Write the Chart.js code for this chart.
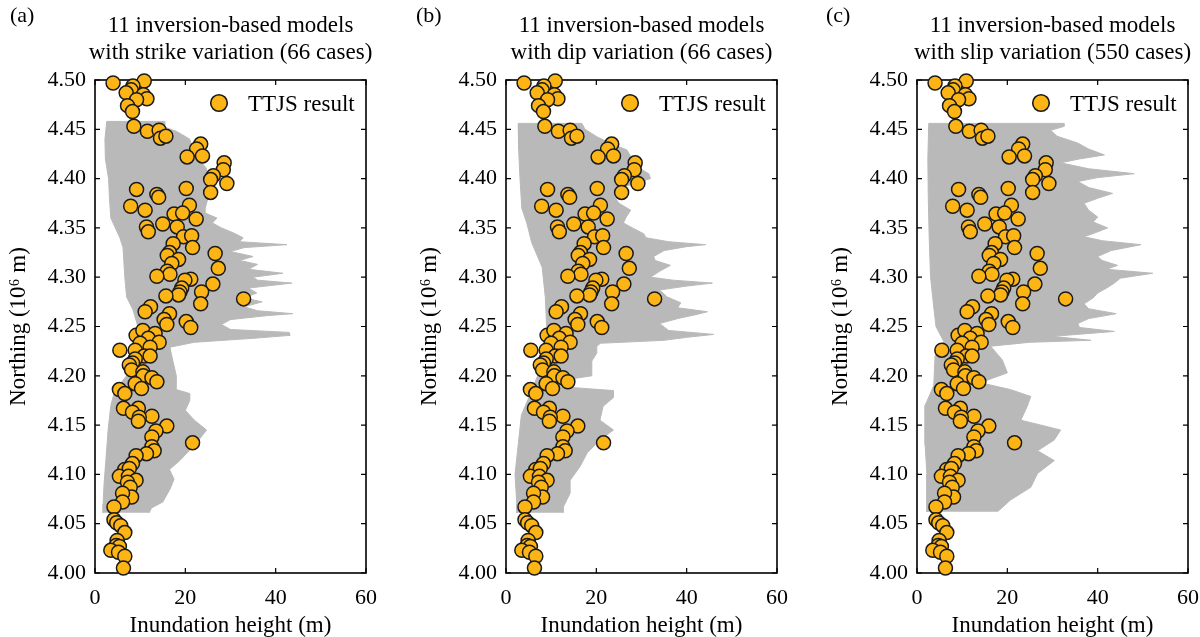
<!DOCTYPE html>
<html>
<head>
<meta charset="utf-8">
<script src="https://cdn.jsdelivr.net/npm/chart.js@4/dist/chart.umd.min.js"></script>
<style>
  html, body { margin: 0; padding: 0; background: #fff; }
  body { width: 1200px; height: 637px; position: relative; overflow: hidden; }
  .panel { position: absolute; top: 0; width: 380px; height: 637px; }
</style>
</head>
<body>
<div class="panel" style="left:0px"><canvas id="ca" width="380" height="637"></canvas></div>
<div class="panel" style="left:411px"><canvas id="cb" width="380" height="637"></canvas></div>
<div class="panel" style="left:822px"><canvas id="cc" width="380" height="637"></canvas></div>
<script>
// ---------------- DATA ----------------
const panelLabels = ['(a)', '(b)', '(c)'];
const panelTitles = [
  ['11 inversion-based models', 'with strike variation (66 cases)'],
  ['11 inversion-based models', 'with dip variation (66 cases)'],
  ['11 inversion-based models', 'with slip variation (550 cases)']
];
const legendLabel = 'TTJS result';
const xTickValues = [0, 20, 40, 60];
const yTickValues = [4.00, 4.05, 4.10, 4.15, 4.20, 4.25, 4.30, 4.35, 4.40, 4.45, 4.50];

// TTJS survey points: inundation height (m) and northing (10^6 m)
const ttjsH = [4.0,10.9,8.4,8.0,6.9,10.7,11.5,9.2,7.2,8.3,
  8.6,11.6,14.2,14.5,15.7,23.4,22.5,23.8,20.4,
  28.6,28.4,26.2,25.6,29.2,25.6,9.2,20.2,13.7,14.1,
  7.9,11.1,20.9,17.5,19.4,22.4,15.0,18.2,11.4,11.8,
  19.6,21.4,17.3,21.6,16.5,16.0,26.6,18.5,17.0,27.3,16.0,16.6,13.7,21.2,19.9,26.1,19.2,18.8,23.6,18.5,15.7,32.9,23.4,12.3,11.1,16.5,15.3,15.9,20.2,21.2,
  9.1,10.6,13.3,11.8,10.0,14.2,12.2,5.5,8.9,10.9,12.2,8.9,8.3,7.6,8.1,10.6,10.7,12.6,13.7,8.9,10.3,5.4,6.6,
  6.3,9.6,8.3,12.6,9.8,9.6,15.9,13.5,12.6,21.6,12.6,13.1,11.4,9.1,8.3,6.6,7.6,5.4,7.4,9.1,7.2,7.8,8.1,6.1,6.1,4.2,4.2,4.8,5.7,6.6,4.9,4.7,5.4,3.5,5.2,6.6,6.3];
const ttjsN = [4.497,4.499,4.494,4.490,4.487,4.485,4.481,4.480,4.474,4.468,
  4.453,4.448,4.449,4.441,4.443,4.435,4.430,4.423,4.422,
  4.416,4.409,4.403,4.399,4.395,4.386,4.389,4.390,4.384,4.381,
  4.372,4.368,4.373,4.364,4.365,4.359,4.354,4.351,4.351,4.346,
  4.341,4.342,4.334,4.330,4.325,4.322,4.324,4.318,4.314,4.309,4.306,4.303,4.301,4.298,4.297,4.293,4.289,4.285,4.285,4.282,4.281,4.278,4.273,4.270,4.265,4.263,4.257,4.252,4.255,4.249,
  4.241,4.246,4.243,4.238,4.233,4.234,4.229,4.226,4.226,4.220,4.220,4.217,4.213,4.211,4.206,4.204,4.200,4.198,4.194,4.192,4.187,4.186,4.182,
  4.167,4.167,4.163,4.159,4.158,4.154,4.149,4.144,4.138,4.132,4.128,4.124,4.121,4.119,4.111,4.105,4.106,4.098,4.098,4.094,4.092,4.087,4.077,4.081,4.072,4.067,4.054,4.051,4.048,4.041,4.033,4.028,4.027,4.023,4.021,4.017,4.005];

// Envelope of simulated cases, panel (a): right edge (bottom->top), left edge (top->bottom)
const aRightN = [4.061,4.066,4.072,4.085,4.095,4.105,4.115,4.125,4.135,4.145,4.155,4.165,4.175,4.182,4.186,4.190,4.200,4.210,4.220,4.229,4.234,4.238,4.241,4.244,4.247,4.252,4.257,4.261,4.263,4.266,4.270,4.275,4.279,4.284,4.289,4.294,4.297,4.300,4.304,4.308,4.313,4.317,4.321,4.326,4.330,4.333,4.336,4.340,4.345,4.350,4.355,4.360,4.365,4.370,4.380,4.390,4.400,4.410,4.420,4.430,4.440,4.448,4.452,4.458];
const aRightH = [12,12.5,15,16.6,17.5,16.5,19,21,23,24.7,22,20,21,21,18,18,18,17.5,17,16.6,22,35,43.2,43,30,28,30,38,43.8,36,33,37,33,35.8,34,43.6,36,35,41.6,34,36,32,35,30,33,42.5,32,32.8,30.6,28,26,27,24.4,24.4,25,25,24.7,24.7,23,21.5,21,18,15.5,15.5];
const aLeftN = [4.458,4.440,4.420,4.400,4.380,4.360,4.340,4.330,4.300,4.280,4.267,4.250,4.235,4.220,4.200,4.185,4.170,4.145,4.120,4.090,4.070,4.061];
const aLeftH = [2.6,2.2,2.3,3.0,3.2,3.5,5.5,6.2,6.6,7.0,8.4,9.5,11.4,9,7,4.4,3.5,2.9,2.5,2.0,1.8,1.8];

// panel (b)
const bRightN = [4.061,4.067,4.081,4.094,4.108,4.122,4.135,4.145,4.155,4.169,4.178,4.185,4.189,4.196,4.200,4.215,4.223,4.230,4.233,4.236,4.239,4.242,4.246,4.253,4.258,4.262,4.265,4.269,4.274,4.280,4.287,4.291,4.294,4.297,4.300,4.306,4.312,4.317,4.321,4.327,4.331,4.333,4.336,4.340,4.344,4.350,4.355,4.360,4.368,4.375,4.382,4.392,4.400,4.405,4.412,4.419,4.429,4.436,4.4425,4.450,4.456];
const bRightH = [12.7,12.7,14.2,14.2,16.4,18,20.8,23.8,20.8,21.5,23.8,23.8,12,13.2,19,19,20.1,20.1,20.9,35,40,46,36,34,38,42,44.6,38,38.7,35.7,34,40,45.7,37,32,34,36.4,33,32.7,35,40,44.2,36,31,30.5,28,26,26.5,27.6,25,24,26.2,32,31.6,29,28,26.8,23,20.1,17.5,16.8];
const bLeftN = [4.456,4.430,4.400,4.370,4.355,4.335,4.310,4.280,4.250,4.235,4.220,4.200,4.185,4.160,4.130,4.100,4.070,4.061];
const bLeftH = [2.7,2.8,3.1,3.5,4.6,5.7,8.0,8.7,9.0,10,7.5,7,5.7,3.4,2.7,2.0,2.4,2.4];

// panel (c)
const cRightN = [4.062,4.074,4.087,4.101,4.114,4.124,4.135,4.145,4.155,4.169,4.179,4.186,4.193,4.203,4.216,4.230,4.234,4.236,4.240,4.245,4.249,4.253,4.258,4.263,4.268,4.273,4.279,4.284,4.289,4.294,4.299,4.304,4.308,4.312,4.317,4.321,4.327,4.333,4.337,4.341,4.346,4.350,4.356,4.361,4.368,4.375,4.380,4.385,4.391,4.397,4.401,4.405,4.410,4.416,4.420,4.424,4.430,4.436,4.443,4.449,4.453,4.456];
const cRightH = [17.8,20.7,25.2,26.7,30.4,26.7,30.4,31.8,23,24.4,25.2,20.7,14,20,18.9,16.3,25,38.5,30,43.7,36,35.6,38,44.1,38,37,39,40,42,43.7,45,52.2,42,44.4,41,40,43,49.6,41,37,40,42.2,39,40,38,37,40,43.3,38,35.6,40,48.1,38,31.8,36,41.5,38,35.6,31,29.6,32.6,32.6];
const cLeftN = [4.456,4.420,4.380,4.340,4.300,4.270,4.250,4.235,4.220,4.190,4.170,4.130,4.100,4.062];
const cLeftH = [2.6,2.4,2.5,2.7,3.0,3.7,4.2,5.9,4.0,3.7,1.8,1.8,2.2,2.2];

// ---------------- RENDER ----------------
const FONT = "'Liberation Serif', 'Times New Roman', serif";
const GRAY = '#b9b9b9';
const ORANGE = '#FDB515';
Chart.defaults.color = '#000';

function shape(rN, rH, lN, lH) {
  const right = rN.map((n, i) => ({ x: rH[i], y: n }));
  const left = lN.map((n, i) => ({ x: lH[i], y: n }));
  return right.concat(left);
}
const ttjsPoints = ttjsH.map((h, i) => ({ x: h, y: ttjsN[i] }));

const framePlugin = {
  id: 'frame',
  beforeDatasetsDraw(chart) {
    const { ctx, chartArea: a, scales } = chart;
    ctx.save();
    ctx.strokeStyle = '#000';
    ctx.lineWidth = 1.2;
    ctx.beginPath();
    const L = 5;
    scales.x.ticks.forEach(t => {
      const px = scales.x.getPixelForValue(t.value);
      ctx.moveTo(px, a.bottom); ctx.lineTo(px, a.bottom - L);
      ctx.moveTo(px, a.top); ctx.lineTo(px, a.top + L);
    });
    scales.y.ticks.forEach(t => {
      const py = scales.y.getPixelForValue(t.value);
      ctx.moveTo(a.left, py); ctx.lineTo(a.left + L, py);
      ctx.moveTo(a.right, py); ctx.lineTo(a.right - L, py);
    });
    ctx.stroke();
    ctx.lineWidth = 1.6;
    ctx.strokeRect(a.left, a.top, a.right - a.left, a.bottom - a.top);
    ctx.restore();
  }
};

const textPlugin = {
  id: 'texts',
  afterDraw(chart) {
    const o = chart.options.plugins.texts;
    const { ctx, chartArea: a } = chart;
    ctx.save();
    ctx.fillStyle = '#000';
    ctx.textBaseline = 'alphabetic';
    ctx.font = '22px ' + FONT;
    ctx.textAlign = 'left';
    ctx.fillText(o.label, o.labelX, 22);
    ctx.font = '23px ' + FONT;
    ctx.textAlign = 'center';
    const cx = (a.left + a.right) / 2;
    ctx.fillText(o.title[0], cx, 32);
    ctx.fillText(o.title[1], cx, 59);
    // legend
    ctx.beginPath();
    ctx.arc(a.left + 124, 103, 8.3, 0, Math.PI * 2);
    ctx.fillStyle = ORANGE;
    ctx.fill();
    ctx.lineWidth = 1.6;
    ctx.strokeStyle = '#1a1a1a';
    ctx.stroke();
    ctx.fillStyle = '#000';
    ctx.textAlign = 'left';
    ctx.font = '23px ' + FONT;
    ctx.fillText(legendLabel, a.left + 153, 111);
    ctx.restore();
  }
};

function makeChart(id, idx, shapeData, labelX) {
  new Chart(document.getElementById(id), {
    type: 'line',
    data: {
      datasets: [
        {
          label: legendLabel,
          data: ttjsPoints,
          showLine: false,
          pointRadius: 7,
          pointHoverRadius: 7,
          pointBackgroundColor: ORANGE,
          pointBorderColor: '#1a1a1a',
          pointBorderWidth: 1.5,
          order: 0,
          clip: false
        },
        {
          label: 'cases',
          data: shapeData,
          showLine: true,
          fill: 'shape',
          backgroundColor: GRAY,
          borderColor: GRAY,
          borderWidth: 1,
          pointRadius: 0,
          tension: 0,
          order: 1
        }
      ]
    },
    options: {
      responsive: false,
      animation: false,
      events: [],
      layout: { autoPadding: false, padding: { top: 80, right: 14, left: 0, bottom: 0 } },
      plugins: {
        legend: { display: false },
        tooltip: { enabled: false },
        title: { display: false },
        texts: { label: panelLabels[idx], labelX: labelX, title: panelTitles[idx] }
      },
      scales: {
        x: {
          type: 'linear', min: 0, max: 60,
          afterBuildTicks: s => { s.ticks = xTickValues.map(v => ({ value: v })); },
          ticks: { padding: 12, maxRotation: 0, font: { family: FONT, size: 22 }, color: '#000' },
          grid: { display: false, drawTicks: false },
          border: { display: false },
          title: { display: true, text: 'Inundation height (m)', color: '#000',
                   font: { family: FONT, size: 23, lineHeight: 1.0 }, padding: { top: 0, bottom: 0 } },
          afterFit: s => { s.height = 64; s.paddingLeft = 0; s.paddingRight = 0; }
        },
        y: {
          type: 'linear', min: 4.0, max: 4.5,
          afterBuildTicks: s => { s.ticks = yTickValues.map(v => ({ value: v })); },
          ticks: { padding: 9, font: { family: FONT, size: 22 }, color: '#000',
                   callback: v => Number(v).toFixed(2) },
          grid: { display: false, drawTicks: false },
          border: { display: false },
          title: { display: true, text: 'Northing (10⁶ m)', color: '#000',
                   font: { family: FONT, size: 23, lineHeight: 1.1 }, padding: { top: 6, bottom: 0 } },
          afterFit: s => { s.width = 95; s.paddingTop = 0; s.paddingBottom = 0; }
        }
      }
    },
    plugins: [framePlugin, textPlugin]
  });
}

makeChart('ca', 0, shape(aRightN, aRightH, aLeftN, aLeftH), 10);
makeChart('cb', 1, shape(bRightN, bRightH, bLeftN, bLeftH), 5);
makeChart('cc', 2, shape(cRightN, cRightH, cLeftN, cLeftH), 4);
</script>
</body>
</html>
